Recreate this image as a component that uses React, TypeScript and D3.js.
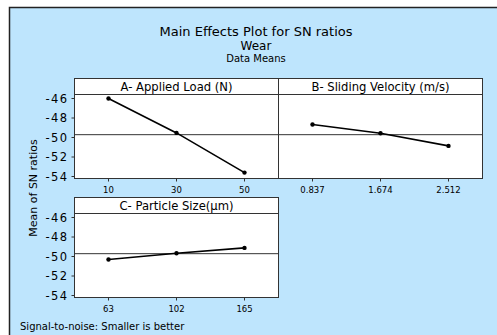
import React from "react";
import * as d3 from "d3";

const W = 497;
const H = 335;

// data
const loadLevels = ["10", "30", "50"];
const loadSN = [-46.0, -49.53, -53.6];
const velocityLevels = ["0.837", "1.674", "2.512"];
const velocitySN = [-48.67, -49.56, -50.86];
const sizeLevels = ["63", "102", "165"];
const sizeSN = [-50.31, -49.66, -49.12];
const yTicks = [-46, -48, -50, -52, -54];

const panels = [
  { title: "A- Applied Load (N)", levels: loadLevels, values: loadSN, col: 0, row: 0 },
  { title: "B- Sliding Velocity (m/s)", levels: velocityLevels, values: velocitySN, col: 1, row: 0 },
  { title: "C- Particle Size(\u00b5m)", levels: sizeLevels, values: sizeSN, col: 0, row: 1 },
];

const grandMean = d3.mean(loadSN) as number;

const font = "DejaVu Sans, Verdana, sans-serif";
const panelLeft = 74.5;
const panelW = 204;
const rowTops = [78.5, 197.5];
const headerH = 16;
const plotH = 84;

const yScale = d3.scaleLinear().domain([-46, -54]).range([4, 82]);

const Panel = ({ p }: { p: (typeof panels)[number] }) => {
  const x0 = panelLeft + p.col * panelW;
  const top = rowTops[p.row];
  const xScale = d3.scalePoint<string>().domain(p.levels).range([0, panelW]).padding(0.5);
  const line = d3
    .line<number>()
    .x((_, i) => xScale(p.levels[i]) as number)
    .y((d) => yScale(d));
  return (
    <g transform={`translate(${x0},${top})`}>
      <rect x={0} y={0} width={panelW} height={headerH + plotH} fill="white" stroke="#333" strokeWidth={1} />
      <line x1={0} x2={panelW} y1={headerH} y2={headerH} stroke="#333" />
      <text x={panelW / 2} y={12} textAnchor="middle" fontSize={11.6} fontFamily={font} fill="#000">
        {p.title}
      </text>
      <g transform={`translate(0,${headerH})`}>
        <line x1={0} x2={panelW} y1={yScale(grandMean)} y2={yScale(grandMean)} stroke="#333" strokeWidth={1} />
        <path d={line(p.values) || ""} fill="none" stroke="#000" strokeWidth={1.6} />
        {p.values.map((v, i) => (
          <circle key={i} cx={xScale(p.levels[i])} cy={yScale(v)} r={2.2} fill="#000" />
        ))}
        {p.levels.map((l) => (
          <g key={l} transform={`translate(${xScale(l)},${plotH})`}>
            <line y1={0} y2={3} stroke="#333" />
            <text y={14} textAnchor="middle" fontSize={8.5} fontFamily={font} fill="#000">
              {l}
            </text>
          </g>
        ))}
        {p.col === 0 &&
          yTicks.map((t) => (
            <g key={t} transform={`translate(0,${yScale(t)})`}>
              <line x1={-3} x2={0} stroke="#333" />
              <text x={-6} dy="0.36em" textAnchor="end" fontSize={11.5} letterSpacing={1.4} fontFamily={font} fill="#000">
                {t}
              </text>
            </g>
          ))}
      </g>
    </g>
  );
};

const App = () => {
  return (
    <svg width={W} height={H} style={{ position: "absolute", left: 0, top: 0 }}>
      <rect x={0} y={0} width={W} height={H} fill="white" />
      <rect x={9.5} y={7.5} width={W + 10} height={H + 10} fill="#bee5fd" stroke="#222" strokeWidth={1.5} />
      <text x={256} y={36} textAnchor="middle" fontSize={13} fontFamily={font} fill="#000">
        Main Effects Plot for SN ratios
      </text>
      <text x={256} y={50} textAnchor="middle" fontSize={12} fontFamily={font} fill="#000">
        Wear
      </text>
      <text x={256} y={62} textAnchor="middle" fontSize={10} fontFamily={font} fill="#000">
        Data Means
      </text>
      <text
        transform={`translate(37,188) rotate(-90)`}
        textAnchor="middle"
        fontSize={11}
        fontFamily={font}
        fill="#000"
      >
        Mean of SN ratios
      </text>
      {panels.map((p) => (
        <Panel key={p.title} p={p} />
      ))}
      <text x={20} y={330} fontSize={10} fontFamily={font} fill="#000">
        Signal-to-noise: Smaller is better
      </text>
    </svg>
  );
};

export default App;
